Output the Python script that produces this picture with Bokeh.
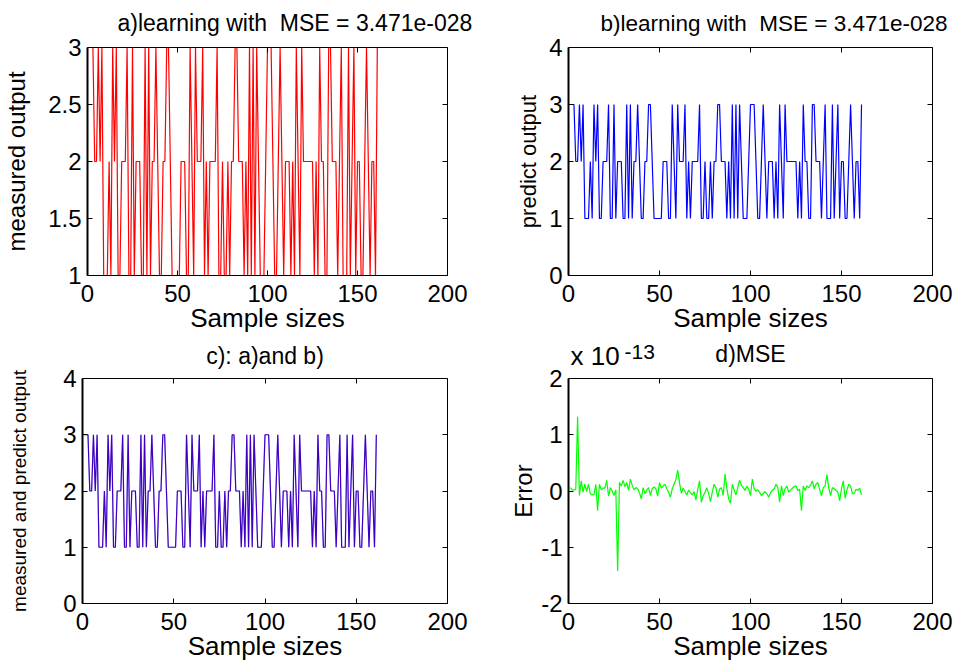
from bokeh.plotting import figure
from bokeh.layouts import column, row
from bokeh.models import Range1d, LinearAxis, FixedTicker, Title
from bokeh.embed import file_html
from bokeh.resources import INLINE

# ---------------- data ----------------
output_values = [
    3, 3, 3, 2, 2, 3, 2, 3, 1, 1,
    1, 2, 1, 3, 2, 3, 1, 1, 2, 2,
    2, 3, 1, 1, 3, 1, 2, 2, 2, 1,
    1, 3, 1, 3, 1, 2, 2, 3, 2, 1,
    1, 2, 2, 3, 3, 2, 1, 1, 1, 1,
    1, 2, 2, 2, 1, 1, 3, 2, 1, 3,
    2, 2, 2, 3, 1, 2, 1, 2, 2, 2,
    2, 3, 1, 1, 2, 1, 1, 2, 1, 2,
    2, 3, 3, 2, 2, 2, 1, 2, 1, 3,
    1, 3, 1, 3, 2, 1, 1, 1, 2, 3,
    3, 3, 2, 1, 1, 2, 3, 2, 1, 2,
    2, 2, 1, 2, 1, 3, 2, 1, 3, 2,
    2, 2, 2, 2, 2, 1, 2, 1, 3, 2,
    2, 1, 1, 3, 3, 2, 2, 2, 1, 2,
    3, 1, 1, 1, 3, 1, 2, 3, 1, 2,
    2, 1, 1, 2, 3, 2, 1, 2, 2, 1,
    3,
]
measured = list(output_values)
predicted = list(output_values)

error_e13 = [
    0.06, 0.02, 0.02, 0.03, 1.32,
    -0.08, 0.18, -0.02, 0.12, -0.01, 0.12, -0.05, -0.07, -0.06, 0.12, -0.35,
    0.12, 0.02, 0.05, 0.05, 0.19, -0.09, 0.06, 0.0, -0.08, 0.02, -1.42,
    0.15, 0.09, 0.19, 0.08, 0.15, 0.01, 0.21, 0.1, 0.02, 0.06, 0.04, -0.03,
    -0.14, 0.06, -0.05, 0.02, 0.06, -0.08, 0.04, 0.07, 0.04, -0.09, 0.15, 0.05,
    0.09, 0.12, 0.04, -0.02, -0.11, 0.04, 0.12, 0.2, 0.37, 0.15, -0.04, 0.05,
    -0.01, -0.07, 0.02, -0.03, -0.07, -0.01, -0.16, 0.03, 0.18, -0.2, -0.08, -0.03,
    0.06, -0.05, -0.19, -0.02, 0.12, 0.06, -0.11, 0.03, 0.06, -0.08, 0.3, 0.05,
    -0.14, -0.22, 0.12, 0.02, -0.07, 0.06, 0.19, 0.1, 0.06, 0.01, 0.09, 0.03,
    -0.08, 0.21, 0.04, 0.0, 0.02, -0.02, -0.08, -0.04, -0.01, -0.05, -0.11, -0.03,
    0.01, 0.04, 0.12, 0.06, -0.2, 0.09, -0.08, 0.04, 0.09, -0.02, 0.02, 0.05,
    0.08, 0.09, 0.01, 0.03, -0.35,
    0.09, 0.01, 0.09, 0.06, 0.1, 0.18, 0.04, 0.12, 0.15, 0.03, -0.08, 0.06,
    0.09, 0.29, 0.05, -0.08, 0.06, 0.04, 0.01, -0.02, -0.17, 0.04, 0.18, -0.13,
    0.02, 0.12, 0.09, -0.05, -0.04, 0.03, 0.01, 0.05, -0.07,
]
samples = list(range(1, len(output_values) + 1))
samples_err = list(range(1, len(error_e13) + 1))

x_ticks = [0, 50, 100, 150, 200]
ya_ticks = [1, 1.5, 2, 2.5, 3]
yb_ticks = [0, 1, 2, 3, 4]
yd_ticks = [-2, -1, 0, 1, 2]
yd_tick_labels = {-2: "-2", -1: "-1", 0: "0", 1: "1", 2: "2"}

titles = ["a)learning with\u00a0 MSE = 3.471e-028",
          "b)learning with\u00a0 MSE = 3.471e-028",
          "c): a)and b)",
          "d)MSE"]
scale_text = "x 10"
scale_exp = "-13"
ylabels = ["measured output", "predict output",
           "measured and predict output", "Error"]
xlabel = "Sample sizes"

FONT = "Liberation Sans"
TICK_FS = "24px"
XLAB_FS = "26px"
TITLE_FS = "23px"


def make_fig(width, height, left, right, top, bottom, yr, yticks, title,
             ylabel, ylab_fs, ylab_standoff, spacer, title_fs=TITLE_FS,
             title_align="center", title_offset=0):
    p = figure(width=width, height=height,
               x_range=Range1d(0, 200), y_range=Range1d(*yr),
               output_backend="svg", toolbar_location=None,
               min_border_left=left, min_border_right=right,
               min_border_top=top, min_border_bottom=bottom,
               background_fill_color="white", border_fill_color="white")
    p.title.text = title
    p.title.text_font = FONT
    p.title.text_font_size = title_fs
    p.title.text_font_style = "normal"
    p.title.text_color = "black"
    p.title.align = title_align
    p.title.offset = title_offset
    p.title.standoff = -27
    p.xgrid.visible = False
    p.ygrid.visible = False
    p.outline_line_color = "black"
    p.outline_line_alpha = 1.0
    p.outline_line_width = 1

    for ax, ticks in ((p.xaxis[0], x_ticks), (p.yaxis[0], yticks)):
        ax.ticker = FixedTicker(ticks=ticks)
        ax.major_tick_in = 5
        ax.major_tick_out = 0
        ax.minor_tick_in = 0
        ax.minor_tick_out = 0
        ax.axis_line_color = "black"
        ax.major_tick_line_color = "black"
        ax.major_label_text_font = FONT
        ax.major_label_text_font_size = TICK_FS
        ax.major_label_text_color = "black"
        ax.axis_label_text_font = FONT
        ax.axis_label_text_font_style = "normal"
        ax.axis_label_text_color = "black"
    p.xaxis[0].axis_label = xlabel
    p.xaxis[0].axis_label_text_font_size = XLAB_FS
    p.xaxis[0].major_label_standoff = 9
    p.xaxis[0].axis_label_standoff = -2
    p.yaxis[0].axis_label = ylabel
    p.yaxis[0].axis_label_text_font_size = ylab_fs
    p.yaxis[0].major_label_standoff = 6
    p.yaxis[0].axis_label_standoff = ylab_standoff
    p.yaxis[0].axis_line_width = 2

    top_ax = LinearAxis(ticker=FixedTicker(ticks=x_ticks),
                        major_tick_in=5, major_tick_out=0,
                        minor_tick_in=0, minor_tick_out=0,
                        major_label_text_font_size="1px",
                        major_label_text_color=None,
                        major_label_standoff=0, axis_line_color="black")
    # invisible spacer: white outward ticks at the frame corners only
    spacer_ax = LinearAxis(ticker=FixedTicker(ticks=[0, 200]),
                           major_tick_in=0, major_tick_out=spacer,
                           minor_tick_in=0, minor_tick_out=0,
                           major_tick_line_color="white",
                           axis_line_color=None,
                           major_label_text_font_size="1px",
                           major_label_text_color=None,
                           major_label_standoff=0)
    right_ax = LinearAxis(ticker=FixedTicker(ticks=yticks),
                          major_tick_in=5, major_tick_out=0,
                          minor_tick_in=0, minor_tick_out=0,
                          major_label_text_font_size="1px",
                          major_label_text_color=None,
                          major_label_standoff=0, axis_line_color="black")
    p.add_layout(top_ax, "above")
    p.add_layout(spacer_ax, "above")
    p.add_layout(right_ax, "right")
    return p


# top row: frame 47..275, bottom row: frame 378..603 (page y)
pa = make_fig(480, 338, 82, 33, 47, 63, (1, 3), ya_ticks, titles[0],
              ylabels[0], "24px", 15, 25, "23px", "left", 30)
pa.line(samples, measured, color="#ff0000", line_width=1.2)

pb = make_fig(474, 338, 88, 22, 47, 63, (0, 4), yb_ticks, titles[1],
              ylabels[1], "22px", 5, 25, "22.5px", "left", 32)
pb.line(samples, predicted, color="#0000ff", line_width=1.2)

pc = make_fig(480, 328, 82, 33, 40, 63, (0, 4), yb_ticks, titles[2],
              ylabels[2], "19px", 30, 23)
pc.line(samples, predicted, color="#0000ff", line_width=1.2)
pc.line(samples, measured, color="#ff0000", line_width=1.2, line_alpha=0.25)

pd = make_fig(474, 328, 88, 22, 40, 63, (-2, 2), yd_ticks, "",
              ylabels[3], "24px", 1, 23)
pd.yaxis[0].major_label_overrides = yd_tick_labels
pd.line(samples_err, error_e13, color="#00ff00", line_width=1.2)
t_scale = Title(text=scale_text, align="left", offset=2, standoff=-30,
                text_font=FONT, text_font_size="26px",
                text_font_style="normal", text_color="black")
t_main = Title(text=titles[3], align="center", standoff=-27,
               text_font=FONT, text_font_size=TITLE_FS,
               text_font_style="normal", text_color="black")
t_exp = Title(text=scale_exp, align="left", offset=56, standoff=-12,
              text_font=FONT, text_font_size="21px",
              text_font_style="normal", text_color="black")
pd.add_layout(t_scale, "above")
pd.add_layout(t_main, "above")
pd.add_layout(t_exp, "above")

layout = column(row(pa, pb), row(pc, pd))

open("out.html", "w").write(file_html(layout, INLINE))
